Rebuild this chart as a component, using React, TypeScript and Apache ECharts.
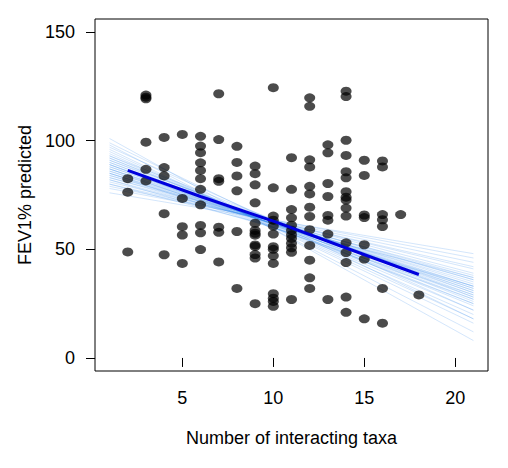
import React, { useEffect, useRef } from 'react';
import * as echarts from 'echarts';

// observed points, grouped by number of interacting taxa
const taxaGroups: number[] = [2, 3, 4, 5, 6, 7, 8, 9, 10, 11, 12, 13, 14, 15, 16, 17, 18];
const fevGroups: number[][] = [
  [82.5, 76.3, 48.8],
  [121, 120, 119.3, 99.3, 86.8, 81.5],
  [101.5, 87.6, 83.8, 66.4, 47.5],
  [102.9, 73.4, 60.4, 56.6, 43.5],
  [102, 97.5, 94.5, 89.8, 86.3, 82.5, 77.6, 70.5, 61, 57.6, 49.9],
  [121.6, 100.5, 82.5, 81.3, 60.2, 57.8, 44.2],
  [97.4, 90, 83.8, 76.9, 58.2, 32],
  [88.3, 84.8, 79.7, 71.4, 62, 58.7, 57.4, 56.5, 52, 51.3, 47.6, 46, 25],
  [124.4, 78.3, 65.3, 63.4, 60.7, 57, 51.2, 50, 47, 43.5, 29.6, 27.5, 26, 23.8],
  [92.2, 77.6, 68.3, 64.5, 61.1, 58.7, 56.7, 55, 52.8, 50.7, 48.6, 26.9],
  [119.7, 115.8, 91.2, 87.9, 79, 75.5, 69.4, 65.1, 59, 51.8, 45, 36.9, 32],
  [98.1, 94.4, 80.3, 74.3, 65.6, 63.4, 57, 26.9],
  [122.8, 120.3, 100.2, 93.2, 85.7, 82.9, 76.5, 74, 72.7, 69, 65.3, 53, 48.5, 43.9, 28, 21],
  [91, 84, 65.8, 64.6, 52.1, 45.5, 18],
  [90.7, 87.9, 66, 63.6, 60.5, 32, 16],
  [66],
  [29],
];

// fitted line
const fitX = [2, 6, 10, 14, 18];
const fitY = [86.3, 74.3, 63, 50.6, 38.4];

// bootstrap fits, value at x = 1 and x = 21
const bootX = [1, 21];
const bootStart = [101, 98, 96, 95, 94, 93, 92, 92, 91, 90, 90, 89, 89, 88, 88, 87, 87, 86, 86, 85,
  85, 84, 84, 83, 83, 82, 81, 80, 79, 78, 76, 99, 97, 93, 91, 89, 87, 85, 82, 80];
const bootEnd = [8, 12, 16, 18, 20, 22, 24, 26, 25, 27, 29, 28, 31, 30, 32, 31, 33, 32, 34, 33,
  36, 35, 37, 36, 39, 38, 41, 42, 44, 46, 48, 18, 22, 28, 30, 25, 27, 29, 33, 37];

const xTicks = [5, 10, 15, 20];
const yTicks = [0, 50, 100, 150];

const FONT = '"Liberation Sans", Arial, sans-serif';

const App: React.FC = () => {
  const chartRef = useRef<HTMLDivElement>(null);

  useEffect(() => {
    if (!chartRef.current) return;
    const chart = echarts.init(chartRef.current, undefined, { renderer: 'svg' });

    const points: number[][] = [];
    taxaGroups.forEach((x, i) => {
      fevGroups[i].forEach((y) => points.push([x, y]));
    });

    const bootSeries = bootStart.map((s, i) => ({
      type: 'line',
      data: [[bootX[0], s], [bootX[1], bootEnd[i]]],
      symbol: 'none',
      silent: true,
      lineStyle: { color: 'rgba(40,130,235,0.2)', width: 1 },
      z: 1,
    }));

    const option: any = {
      animation: false,
      grid: {
        left: 95,
        top: 19,
        width: 393,
        height: 352,
        show: true,
        borderColor: '#000',
        borderWidth: 1,
        backgroundColor: 'transparent',
      },
      xAxis: {
        type: 'value',
        min: 0.2,
        max: 21.8,
        splitLine: { show: false },
        axisLine: { show: false },
        axisTick: {
          show: true,
          length: 9,
          customValues: xTicks,
          lineStyle: { color: '#000', width: 1 },
        },
        axisLabel: {
          customValues: xTicks,
          margin: 18,
          color: '#000',
          fontSize: 18,
          fontFamily: FONT,
        },
        name: 'Number of interacting taxa',
        nameLocation: 'middle',
        nameGap: 58,
        nameTextStyle: { color: '#000', fontSize: 18, fontFamily: FONT },
      },
      yAxis: {
        type: 'value',
        min: -6,
        max: 156,
        splitLine: { show: false },
        axisLine: { show: false },
        axisTick: {
          show: true,
          length: 9,
          customValues: yTicks,
          lineStyle: { color: '#000', width: 1 },
        },
        axisLabel: {
          customValues: yTicks,
          margin: 20,
          color: '#000',
          fontSize: 18,
          fontFamily: FONT,
        },
        name: 'FEV1% predicted',
        nameLocation: 'middle',
        nameGap: 56,
        nameTextStyle: { color: '#000', fontSize: 18, fontFamily: FONT },
      },
      series: [
        ...bootSeries,
        {
          type: 'scatter',
          data: points,
          symbol: 'circle',
          symbolSize: [11, 9],
          itemStyle: { color: 'rgba(0,0,0,0.88)' },
          z: 2,
        },
        {
          type: 'line',
          data: fitX.map((x, i) => [x, fitY[i]]),
          symbol: 'none',
          lineStyle: { color: '#0000dd', width: 3 },
          z: 3,
        },
      ],
    };

    chart.setOption(option);
    return () => {
      chart.dispose();
    };
  }, []);

  return (
    <div
      ref={chartRef}
      style={{ position: 'absolute', left: 0, top: 0, width: 508, height: 468, background: '#fff' }}
    />
  );
};

export default App;
